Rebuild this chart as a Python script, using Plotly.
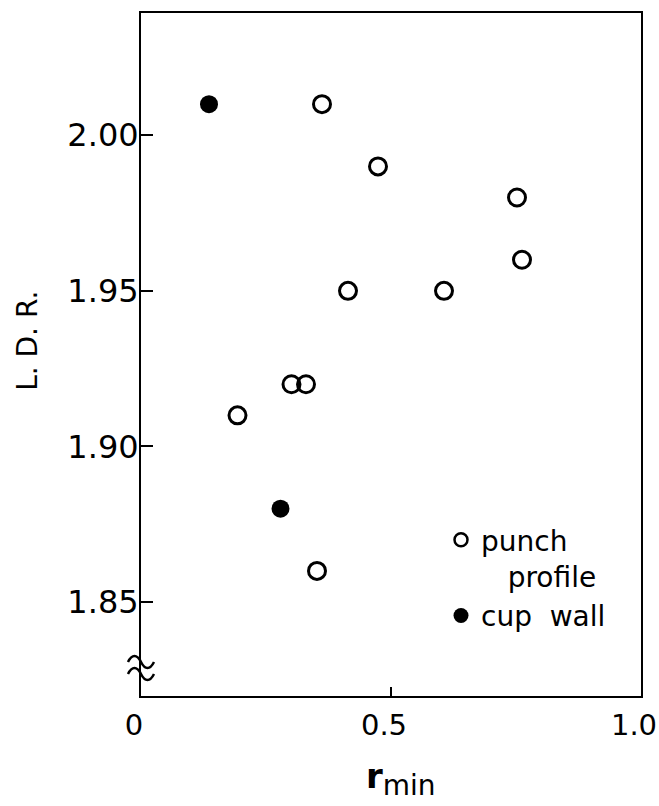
import plotly.graph_objects as go

# Limiting drawing ratio vs. minimum r-value
punch_r = [0.362, 0.474, 0.752, 0.762, 0.414, 0.606, 0.301, 0.330, 0.193, 0.352]
punch_ldr = [2.01, 1.99, 1.98, 1.96, 1.95, 1.95, 1.92, 1.92, 1.91, 1.86]

wall_r = [0.136, 0.279]
wall_ldr = [2.01, 1.88]

x_ticks = [0, 0.5, 1.0]
x_ticktext = ["0", "0.5", "1.0"]
y_ticks = [1.85, 1.90, 1.95, 2.00]
y_ticktext = ["1.85", "1.90", "1.95", "2.00"]

Y_RANGE = [1.8198, 2.0393]
BREAK_AT = 1.8288

FONT = "DejaVu Sans"

fig = go.Figure()
fig.add_trace(go.Scatter(
    x=punch_r, y=punch_ldr, mode="markers", showlegend=False, legendgroup="punch",
    marker=dict(symbol="circle-open", size=17, color="black", line=dict(width=3, color="black")),
))
fig.add_trace(go.Scatter(
    x=wall_r, y=wall_ldr, mode="markers", showlegend=False, legendgroup="wall",
    marker=dict(symbol="circle", size=18, color="black"),
))
# legend entries with smaller key symbols
fig.add_trace(go.Scatter(
    x=[None], y=[None], mode="markers", name="punch<br>\u00a0\u00a0\u00a0profile", legendgroup="punch",
    marker=dict(symbol="circle-open", size=13, color="black", line=dict(width=2.5, color="black")),
))
fig.add_trace(go.Scatter(
    x=[None], y=[None], mode="markers", name="cup  wall", legendgroup="wall",
    marker=dict(symbol="circle", size=15, color="black"),
))

axis_common = dict(
    showgrid=False, zeroline=False, showline=True, linecolor="black", linewidth=2,
    mirror=True, ticks="inside", tickcolor="black", tickwidth=2, automargin=False,
)

fig.update_xaxes(
    range=[0, 1.0], tickvals=x_ticks, ticktext=x_ticktext, ticklen=9,
    ticklabelshift=-7, ticklabelstandoff=2, ticklabeloverflow="allow",
    tickfont=dict(family=FONT, size=29, color="black"),
    **axis_common,
)
fig.update_yaxes(
    range=Y_RANGE, tickvals=y_ticks, ticktext=y_ticktext, ticklen=12,
    ticklabelstandoff=-6,
    tickfont=dict(family=FONT, size=32, color="black"),
    **axis_common,
)

# axis titles
fig.add_annotation(
    xref="paper", yref="paper", x=0.52, y=-0.122, xanchor="center", yanchor="middle",
    text="<b>r</b><sub><span style='font-size:28px'>min</span></sub>", showarrow=False,
    font=dict(family=FONT, size=34, color="black"),
)
fig.add_annotation(
    xref="paper", yref="paper", x=-0.226, y=0.52, xanchor="center", yanchor="middle",
    text="L. D. R.", textangle=-90, showarrow=False,
    font=dict(family=FONT, size=28, color="black"),
)

# axis break mark on the y axis (two waves across the axis line)
break_frac = (BREAK_AT - Y_RANGE[0]) / (Y_RANGE[1] - Y_RANGE[0])
for dy in (6, -6):
    fig.add_shape(
        type="path", xref="paper", yref="paper", xsizemode="pixel", ysizemode="pixel",
        xanchor=0, yanchor=break_frac,
        path=f"M -13,{dy} C -9,{dy + 8} -4,{dy + 8} 0,{dy} S 9,{dy - 8} 13,{dy}",
        line=dict(color="black", width=2.5),
    )

fig.update_layout(
    width=659, height=806,
    margin=dict(l=141, r=18, t=13, b=110, autoexpand=False),
    paper_bgcolor="white", plot_bgcolor="white",
    showlegend=True,
    legend=dict(
        x=0.60, y=0.265, xanchor="left", yanchor="top", valign="top",
        font=dict(family=FONT, size=28, color="black"),
        bgcolor="rgba(0,0,0,0)", itemwidth=30, tracegroupgap=0,
    ),
)

fig.write_html("out.html")
